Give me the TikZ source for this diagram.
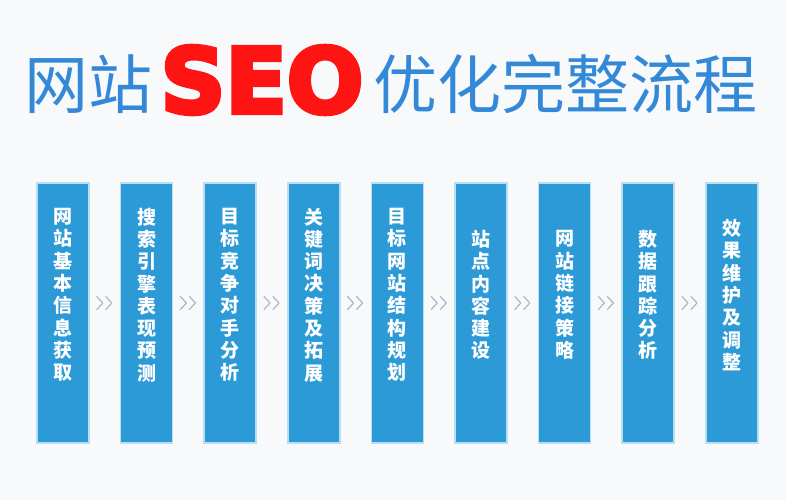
\documentclass[tikz,border=0pt]{standalone}
\usepackage{fontspec}
\newfontfamily\cjk{Noto Sans CJK SC}
\newfontfamily\seofont[FakeBold=5]{DejaVu Sans Bold}
\usetikzlibrary{calc}
\definecolor{bg}{HTML}{F8F9FB}
\definecolor{titleblue}{HTML}{3389D7}
\definecolor{seored}{HTML}{FF1414}
\definecolor{boxblue}{HTML}{2C9AD7}
\definecolor{glow}{HTML}{B9DDF1}
\definecolor{chev}{HTML}{A9B8C8}
\begin{document}
\begin{tikzpicture}[x=1pt,y=-1pt,
  stepbox/.style={fill=boxblue, draw=glow, line width=1.5pt, minimum width=52pt, minimum height=260pt, inner sep=0pt},
  boxtext/.style={text=white, font=\cjk\bfseries\fontsize{19}{22.3}\selectfont, align=center, inner sep=0pt},
  chevline/.style={draw=chev, line width=1.2pt, line join=round, line cap=round},
  titletext/.style={font=\cjk\fontsize{64}{64}\selectfont, text=titleblue, inner sep=0pt}]
\fill[bg] (0,0) rectangle (786,500);
\useasboundingbox (0,0) rectangle (786,500);
% title
\node[titletext] (ta) at (88,84) {网站};
\node[font=\seofont\fontsize{90}{90}\selectfont, text=seored, inner sep=0pt] (seo) at (262,80) {SEO};
\node[titletext] (tb) at (565,84) {优化完整流程};
% boxes
\node[stepbox] (b1) at (63,313) {};
\node[stepbox] (b2) at (146.6,313) {};
\node[stepbox] (b3) at (230.2,313) {};
\node[stepbox] (b4) at (313.8,313) {};
\node[stepbox] (b5) at (397.4,313) {};
\node[stepbox] (b6) at (481,313) {};
\node[stepbox] (b7) at (564.6,313) {};
\node[stepbox] (b8) at (648.2,313) {};
\node[stepbox] (b9) at (731.8,313) {};
% box texts
\node[boxtext] (x1) at ([yshift=18pt]b1.center) {网\\站\\基\\本\\信\\息\\获\\取};
\node[boxtext] (x2) at ([yshift=18pt]b2.center) {搜\\索\\引\\擎\\表\\现\\预\\测};
\node[boxtext] (x3) at ([yshift=18pt]b3.center) {目\\标\\竞\\争\\对\\手\\分\\析};
\node[boxtext] (x4) at ([yshift=18pt]b4.center) {关\\键\\词\\决\\策\\及\\拓\\展};
\node[boxtext] (x5) at ([yshift=18pt]b5.center) {目\\标\\网\\站\\结\\构\\规\\划};
\node[boxtext] (x6) at ([yshift=18pt]b6.center) {站\\点\\内\\容\\建\\设};
\node[boxtext] (x7) at ([yshift=18pt]b7.center) {网\\站\\链\\接\\策\\略};
\node[boxtext] (x8) at ([yshift=18pt]b8.center) {数\\据\\跟\\踪\\分\\析};
\node[boxtext] (x9) at ([yshift=18pt]b9.center) {效\\果\\维\\护\\及\\调\\整};
% chevrons
\foreach \a/\b [count=\k] in {b1/b2,b2/b3,b3/b4,b4/b5,b5/b6,b6/b7,b7/b8,b8/b9} {
  \coordinate (c\k) at ($(\a.east)!0.5!(\b.west)+(0,-10)$);
  \draw[chevline] ([xshift=-8pt,yshift=6.5pt]c\k) -- ([xshift=-2pt]c\k) -- ([xshift=-8pt,yshift=-6.5pt]c\k);
  \draw[chevline] ([xshift=1pt,yshift=6.5pt]c\k) -- ([xshift=7pt]c\k) -- ([xshift=1pt,yshift=-6.5pt]c\k);
}
\end{tikzpicture}
\end{document}
